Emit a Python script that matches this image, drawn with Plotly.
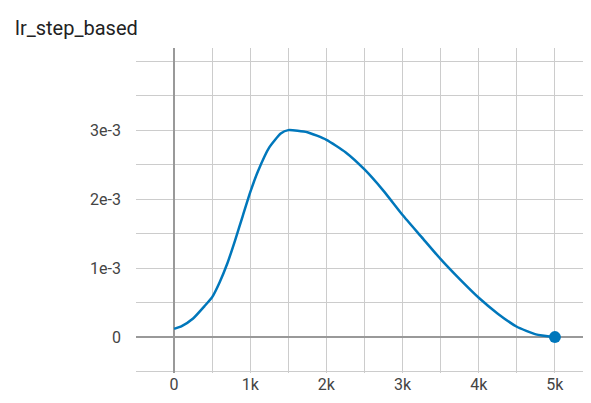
import plotly.graph_objects as go

steps = [0, 100, 250, 400, 500, 600, 700, 800, 900, 1000, 1100, 1250, 1400, 1500, 1750, 2000,
         2250, 2500, 2750, 3000, 3250, 3500, 3750, 4000, 4250, 4500, 4750, 5000]
lr = [0.12e-3, 0.16e-3, 0.27e-3, 0.45e-3, 0.58e-3, 0.8e-3, 1.07e-3, 1.4e-3, 1.75e-3, 2.1e-3,
      2.4e-3, 2.75e-3, 2.95e-3, 3.0e-3, 2.97e-3, 2.86e-3,
      2.68e-3, 2.43e-3, 2.12e-3, 1.77e-3, 1.45e-3, 1.13e-3, 0.84e-3, 0.57e-3, 0.34e-3,
      0.15e-3, 0.04e-3, 0.0]
xticks = [0, 1000, 2000, 3000, 4000, 5000]
xlabels = ["0", "1k", "2k", "3k", "4k", "5k"]
yticks = [0, 1e-3, 2e-3, 3e-3]
ylabels = ["0", "1e-3", "2e-3", "3e-3"]

fig = go.Figure()
fig.add_trace(go.Scatter(x=steps, y=lr, mode="lines",
                         line=dict(color="#0077bb", width=2.5, shape="spline", smoothing=0.5),
                         hoverinfo="skip"))
fig.add_trace(go.Scatter(x=[steps[-1]], y=[lr[-1]], mode="markers",
                         marker=dict(color="#0077bb", size=12)))

grid = "#cccccc"
fig.update_layout(
    width=591, height=403, showlegend=False,
    paper_bgcolor="white", plot_bgcolor="white",
    margin=dict(l=128, r=6, t=40, b=38, autoexpand=False),
    font=dict(family="Roboto", size=16, color="#444"),
    title=dict(text="lr_step_based", x=0.012, xanchor="left", y=0.95, yanchor="middle",
               font=dict(family="Roboto", size=20, color="#222")),
    xaxis=dict(range=[-500, 5500], tickvals=xticks, ticktext=xlabels, showgrid=True,
               gridcolor=grid, minor=dict(dtick=500, showgrid=True, gridcolor=grid, ticks=""),
               zeroline=True, zerolinecolor="#999", zerolinewidth=2, automargin=False,
               ticks="", showline=False, fixedrange=True),
    yaxis=dict(range=[-0.52e-3, 4.19e-3], tickvals=yticks, ticktext=ylabels, showgrid=True,
               gridcolor=grid, minor=dict(dtick=0.5e-3, showgrid=True, gridcolor=grid, ticks=""),
               zeroline=True, zerolinecolor="#999", zerolinewidth=2, automargin=False,
               ticks="", ticklabelstandoff=14, showline=False, fixedrange=True),
)
fig.write_html("out.html")
